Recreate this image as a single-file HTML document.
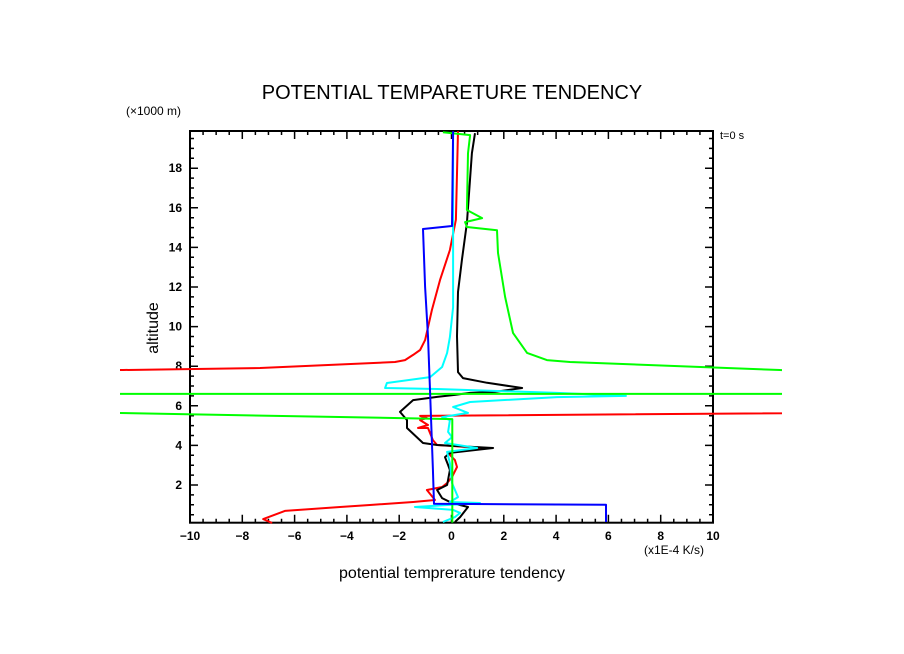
<!DOCTYPE html>
<html><head><meta charset="utf-8"><style>
body{margin:0;background:#fff;}
svg{display:block;font-family:"Liberation Sans",sans-serif;}
</style></head><body>
<svg id="chart" width="904" height="654">
<defs><clipPath id="clip"><rect x="120" y="100" width="662" height="440"/></clipPath></defs>
<text x="452" y="99" text-anchor="middle" font-size="20">POTENTIAL TEMPARETURE TENDENCY</text>
<text x="126" y="115" font-size="12">(×1000 m)</text>
<text x="720" y="139" font-size="11">t=0 s</text>
<text x="158" y="328" font-size="16" text-anchor="middle" transform="rotate(-90 158 328)">altitude</text>
<text x="644" y="554" font-size="12">(x1E-4 K/s)</text>
<text x="452" y="578" font-size="16" text-anchor="middle">potential temprerature tendency</text>
<g id="axes"></g>
<g id="series" clip-path="url(#clip)"></g>
</svg>
<script>
const xTicks=[-10,-8,-6,-4,-2,0,2,4,6,8,10];
const yTicks=[2,4,6,8,10,12,14,16,18];
const redX=[0.25,0.17,-0.06,-0.44,-0.75,-1.01,-1.2,-1.47,-1.78,-2.16,-7.32,-12.56,-30,-30,30,30,-1.2,-0.94,-1.2,-0.9,-1.28,-0.9,-0.71,-0.55,1.2,0.06,-0.06,0.13,0.21,0.02,-0.17,-0.36,-0.94,-0.63,-1.47,-3.12,-4.26,-6.37,-7.2,-6.86];
const redA=[19.87,15.4,13.87,12.35,10.84,9.32,8.82,8.57,8.31,8.21,7.91,7.81,7.48,25,25,5.8,5.49,5.38,5.28,5.03,4.88,4.88,4.27,4.02,3.87,3.67,3.52,3.26,2.91,2.4,2.1,1.9,1.75,1.24,1.14,0.99,0.89,0.69,0.28,0.08];
const blackX=[0.9,0.78,0.59,0.4,0.25,0.21,0.25,0.44,1.36,2.7,1.66,0.71,0.13,-0.55,-1.47,-1.97,-1.7,-1.7,-1.09,-0.55,1.59,-0.06,-0.25,-0.13,-0.06,-0.17,-0.55,-0.36,0.02,0.63,0.33,0.13];
const blackA=[19.77,18.76,15.23,13.4,11.75,9.52,7.7,7.4,7.16,6.9,6.7,6.65,6.55,6.45,6.29,5.69,5.28,4.88,4.12,4.02,3.87,3.62,3.41,3.01,2.76,2.0,1.75,1.34,1.09,0.89,0.38,0.13];
const cyanX=[0.06,0.06,-0.06,-0.17,-0.36,-0.82,-2.47,-2.54,-0.55,4.03,6.67,4.03,0.71,0.06,0.63,-0.36,-0.06,-0.13,0.02,-0.25,0.98,-0.17,-0.06,0.02,0.25,-0.06,1.09,-1.4,0.06,0.33,0.13,-0.33];
const cyanA=[19.77,10.98,9.47,8.67,7.96,7.45,7.15,6.9,6.85,6.65,6.5,6.44,6.19,5.94,5.64,5.43,5.28,4.68,4.42,4.12,3.87,3.67,3.11,2.1,1.39,1.14,1.09,0.89,0.74,0.59,0.38,0.13];
const greenX=[-0.33,0.71,0.63,0.59,1.17,0.52,0.59,1.74,1.78,2.05,2.35,2.89,3.65,4.53,12.56,30,30,-30,-30,0.03,0.03];
const greenA=[19.82,19.67,18.76,15.89,15.48,15.28,15.03,14.87,13.72,11.5,9.68,8.67,8.31,8.21,7.81,6.94,6.6,6.6,6.06,5.33,0.1];
const blueX=[0.06,0.02,-1.09,-1.01,-0.9,-0.82,-0.71,-0.67,5.91,5.91];
const blueA=[19.87,15.08,14.93,12.0,9.5,6.65,2.8,1.05,1.0,0.13];

const X0=190,X1=713,Y0=131,Y1=522.7;
function sx(v){return 451.5+26.15*v;}
function sy(a){return 524.6-19.8*a;}
const NS='http://www.w3.org/2000/svg';
const axes=document.getElementById('axes'),ser=document.getElementById('series');
function mk(tag,at,parent){const e=document.createElementNS(NS,tag);for(const k in at)e.setAttribute(k,at[k]);parent.appendChild(e);return e;}
const frame=mk('rect',{x:X0,y:Y0,width:X1-X0,height:Y1-Y0,fill:'none',stroke:'#000','stroke-width':2},axes);


let d='';
for(let v=-10;v<=10.001;v+=0.5){const x=sx(v);const maj=Math.abs(v/2-Math.round(v/2))<1e-6;const L=maj?8:4;d+=`M${x} ${Y1}V${Y1-L}M${x} ${Y0}V${Y0+L}`;}
for(let a=0.5;a<=19.8;a+=0.5){const y=sy(a);const maj=Math.abs(a/2-Math.round(a/2))<1e-6;const L=maj?8:4;d+=`M${X0} ${y}H${X0+L}M${X1} ${y}H${X1-L}`;}
const tk=mk('path',{d:d,stroke:'#000','stroke-width':1.5,fill:'none'},axes);


xTicks.forEach(v=>{const t=mk('text',{x:sx(v),y:540,'text-anchor':'middle','font-size':12,'font-weight':'bold'},axes);t.textContent=(v<0?'\u2212':'')+Math.abs(v);

});
yTicks.forEach(v=>{const t=mk('text',{x:182,y:sy(v)+4,'text-anchor':'end','font-size':12,'font-weight':'bold'},axes);t.textContent=v;

});
function line(xs,as,col,name){const p=xs.map((v,i)=>(i?'L':'M')+sx(v).toFixed(1)+' '+sy(as[i]).toFixed(1)).join('');
const e=mk('path',{d:p,stroke:col,'stroke-width':2,fill:'none','stroke-linejoin':'round'},ser);

}
line(redX,redA,'#ff0000','red-series');
line(blackX,blackA,'#000000','black-series');
line(cyanX,cyanA,'#00ffff','cyan-series');
line(greenX,greenA,'#00ff00','green-series');
line(blueX,blueA,'#0000ff','blue-series');
</script>
</body></html>
